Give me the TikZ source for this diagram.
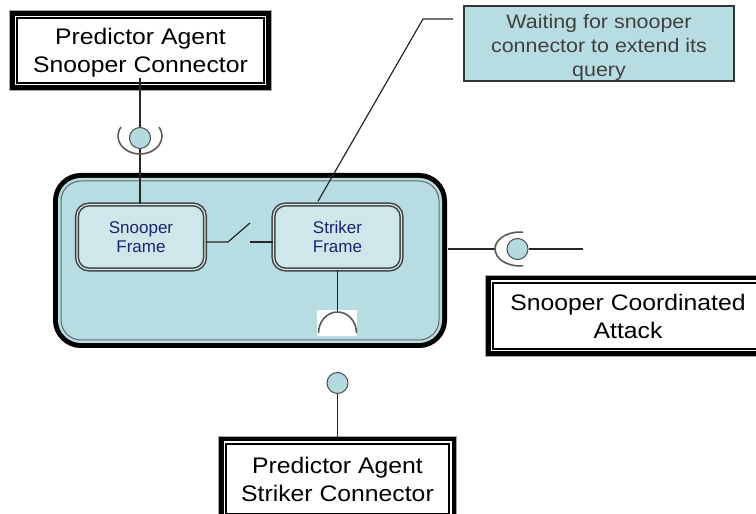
\documentclass[tikz,border=0pt]{standalone}
\usepackage{fontspec}
\setmainfont{Liberation Sans}
\usetikzlibrary{calc}
\definecolor{mainfill}{RGB}{183,221,226}
\definecolor{framefill}{RGB}{205,231,235}
\definecolor{navytext}{RGB}{28,36,110}
\definecolor{ballfill}{RGB}{180,218,224}
\newcommand\widetxt[1]{\scalebox{1.1}[1]{#1}}
\begin{document}
\begin{tikzpicture}[x=1pt,y=1pt,
  conn/.style={draw=black!85, line width=1.2pt},
  labelbox/.style={fill=white, draw=black, line width=1.8pt, inner sep=0pt, align=center,
    text depth=0pt, font=\fontsize{22.5}{28}\selectfont,
    preaction={draw=gray!70, line width=15.4pt},
    preaction={draw=black, line width=13.4pt},
    preaction={draw=white, line width=4.4pt}},
  framebox/.style={draw=black!75, line width=1.5pt, double=framefill, double distance=1.2pt,
    fill=framefill, rounded corners=12pt, minimum width=128pt, minimum height=65pt,
    inner sep=0pt, align=center, text=navytext, font=\fontsize{17}{18.5}\selectfont},
  mainbox/.style={fill=mainfill, draw=black!60, line width=1pt, rounded corners=20pt,
    minimum width=378pt, minimum height=159pt, inner sep=0pt,
    preaction={draw=black, line width=16pt},
    preaction={draw=mainfill, line width=6pt}},
  callout/.style={fill=mainfill, draw=black!80, line width=1.2pt, minimum width=270pt,
    minimum height=75pt, inner sep=0pt, text=black!75,
    font=\fontsize{19.5}{24}\selectfont},
  ball/.style={circle, draw=black!70, fill=ballfill, line width=1pt, minimum size=21pt, inner sep=0pt},
  socket/.style={draw=gray!70!black, line width=1.6pt}
]
\useasboundingbox (0,0) rectangle (756,514);

% main component
\node[mainbox] (main) at (250,253.5) {};
\node[framebox] (snooper) at (141,277) {Snooper\\Frame};
\node[framebox] (striker) at (337.5,277) {Striker\\Frame};

% label boxes
\node[labelbox, minimum width=247pt, minimum height=65.3pt] (topbox) at (140.5,463.6)
  {\widetxt{Predictor Agent}\\\widetxt{Snooper Connector}};
\node[labelbox, minimum width=270.6pt, minimum height=66.6pt] (rightbox) at (628,198)
  {\widetxt{Snooper Coordinated}\\\widetxt{Attack}};
\node[labelbox, minimum width=223.6pt, minimum height=70.6pt] (botbox) at (337.5,35)
  {\widetxt{Predictor Agent}\\\widetxt{Striker Connector}};

% callout
\node[callout] (note) at (599,470.5)
  {\raisebox{-4pt}[\height][\depth]{\begin{tabular}{@{}c@{}}
   \widetxt{Waiting for snooper}\\\widetxt{connector to extend its}\\\widetxt{query}
   \end{tabular}}};

% top connector (snooper frame <-> predictor agent snooper connector)
\coordinate (tstart) at (140,436);
\draw[conn] (tstart) -- (tstart |- snooper.north);
\draw[socket] (120.95,387) arc[start angle=150, end angle=390, x radius=22, y radius=18];
\node[ball] (tball) at (140,376) {};

% switch between frames
\coordinate (sw1) at (228,272);
\coordinate (sw2) at (250,291);
\coordinate (sw3) at (250,272);
\draw[conn] (snooper.east |- sw1) -- (sw1) -- (sw2);
\draw[conn] (sw3) -- (striker.west |- sw3);

% callout leader
\coordinate (bend) at (423,495);
\coordinate (cend) at (453,495);
\draw[conn] ($(striker.north)+(-19.5,2.5)$) -- (bend) -- (cend);

% striker bottom socket
\fill[white] (317,178) rectangle (357,204);
\coordinate (sockb) at (337.5,202);
\draw[conn] (striker.south) -- (sockb);
\draw[socket] (356.5,181) arc[start angle=0, end angle=180, x radius=19, y radius=21];

% bottom ball to striker connector
\node[ball] (bball) at (337.5,131) {};
\draw[conn] (bball.south) -- ($(botbox.north)+(0,6)$);

% right side
\node[ball] (rball) at (517.5,265) {};
\coordinate (rsock) at (495,265);
\coordinate (rend) at (583,265);
\draw[conn] ($(main.east |- rball)+(8,0)$) -- (rsock);
\draw[socket] (523.05,281.87) arc[start angle=83, end angle=277, x radius=25, y radius=17];
\draw[conn] (rball.east) -- (rend);
\end{tikzpicture}
\end{document}
